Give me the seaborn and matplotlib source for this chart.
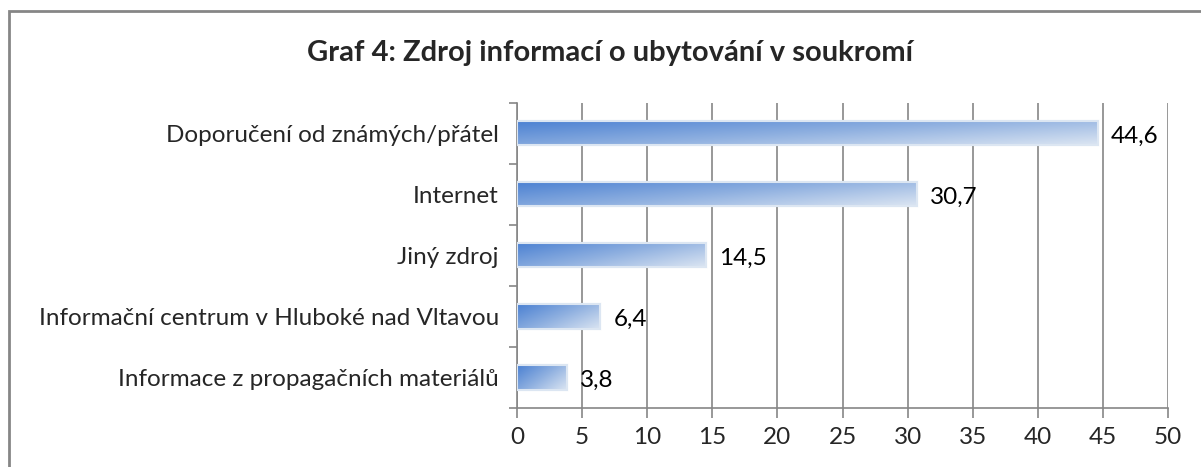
import numpy as np
import pandas as pd
import matplotlib
matplotlib.use("Agg")
import matplotlib.pyplot as plt
from matplotlib.colors import LinearSegmentedColormap
from matplotlib.patches import Rectangle
import seaborn as sns

categories = [
    "Doporučení od známých/přátel",
    "Internet",
    "Jiný zdroj",
    "Informační centrum v Hluboké nad Vltavou",
    "Informace z propagačních materiálů",
]
values = [44.6, 30.7, 14.5, 6.4, 3.8]
xticks = [0, 5, 10, 15, 20, 25, 30, 35, 40, 45, 50]

df = pd.DataFrame({"zdroj": categories, "podil": values})

sns.set_style("white")
plt.rcParams["font.family"] = ["Lato", "DejaVu Sans"]

fig = plt.figure(figsize=(12.01, 4.67), dpi=100)
ax = fig.add_axes([0.4305, 0.1263, 0.542, 0.6542])

sns.barplot(data=df, x="podil", y="zdroj", orient="h", width=0.4,
            color="#6f9bdc", edgecolor="#dce6f2", linewidth=1.5, ax=ax, zorder=3)

# gradient fill (dark blue top-left -> pale bottom-right), clipped to each bar
cmap = LinearSegmentedColormap.from_list("grad", ["#4a80d2", "#8fb0e0", "#dbe5f2"])
gx, gy = np.meshgrid(np.linspace(0, 1, 200), np.linspace(0, 1, 40))
grad = 0.6 * gx + 0.4 * gy
for p in ax.patches:
    x0, y0, w, h = p.get_x(), p.get_y(), p.get_width(), p.get_height()
    im = ax.imshow(grad, cmap=cmap, extent=(x0, x0 + w, y0 + h, y0),
                   aspect="auto", zorder=3.5, interpolation="bilinear")
    im.set_clip_path(p)
    ax.add_patch(Rectangle((x0, y0), w, h, fill=False, edgecolor="#dce6f2",
                           linewidth=1.5, zorder=4))

for i, v in enumerate(values):
    ax.text(v + 1.0, i + 0.05, f"{v:.1f}".replace(".", ","), va="center", ha="left",
            fontsize=17.5, color="black", zorder=5)

ax.set_xlim(0, 50)
ax.set_ylim(4.5, -0.5)
ax.set_xticks(xticks)
ax.set_xticklabels([str(t) for t in xticks], fontsize=17.5)
ax.set_yticks(range(len(categories)))
ax.set_yticklabels(categories, fontsize=17.5)
ax.set_yticks(np.arange(-0.5, 5, 1), minor=True)
ax.tick_params(axis="y", which="major", left=False, length=0, pad=13)
ax.tick_params(axis="y", which="minor", left=True, length=6, color="#868686", width=1.2)
ax.tick_params(axis="x", which="major", bottom=True, length=7, color="#868686",
               width=1.2, pad=7)
ax.xaxis.grid(True, color="#868686", linewidth=1.2, zorder=0)
ax.set_axisbelow(True)
ax.set_xlabel("")
ax.set_ylabel("")
for s in ["top", "right"]:
    ax.spines[s].set_visible(False)
for s in ["left", "bottom"]:
    ax.spines[s].set_color("#868686")
    ax.spines[s].set_linewidth(1.2)

fig.text(0.508, 0.886, "Graf 4: Zdroj informací o ubytování v soukromí",
         ha="center", va="center", fontsize=21, fontweight="bold")

fig.patches.append(Rectangle((8.5 / 1201, -0.1), 1.2, 1.1 - 10.5 / 467,
                             transform=fig.transFigure, fill=False,
                             edgecolor="#868686", linewidth=2))

fig.savefig("out.png", dpi=100)
